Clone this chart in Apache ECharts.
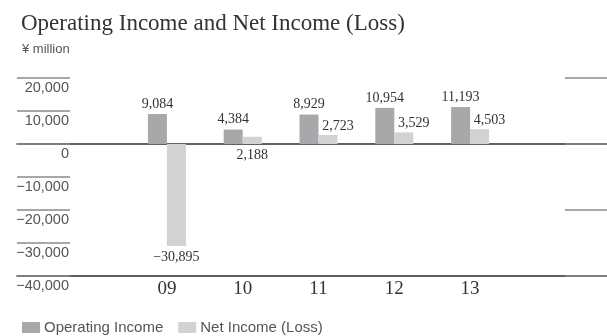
<!DOCTYPE html>
<html>
<head>
<meta charset="utf-8">
<script src="https://cdn.jsdelivr.net/npm/echarts@6/dist/echarts.min.js"></script>
<style>
  html, body { margin: 0; padding: 0; background: #fff; }
  #chart { width: 607px; height: 336px; }
</style>
</head>
<body>
<div id="chart"></div>
<script>
// Fiscal years and results (¥ million)
const years = ['09', '10', '11', '12', '13'];
const operatingIncome = [9084, 4384, 8929, 10954, 11193];
const netIncome = [-30895, 2188, 2723, 3529, 4503];
const yMin = -40000;
const yMax = 20000;
const yStep = 10000;

const serif = '"Liberation Serif", "DejaVu Serif", serif';
const sans = '"Liberation Sans", Arial, sans-serif';
const GRID_TOP = 78;
const GRID_BOTTOM = 60;

const fmt = v => (v < 0 ? '\u2212' : '') + Math.abs(v).toLocaleString('en-US');

const chart = echarts.init(document.getElementById('chart'), null, { renderer: 'canvas' });

chart.setOption({
  animation: false,
  backgroundColor: '#ffffff',
  title: [
    {
      text: 'Operating Income and Net Income (Loss)',
      left: 16, top: 7,
      textStyle: { fontFamily: serif, fontSize: 23, fontWeight: 'normal', color: '#333' }
    },
    {
      text: '\u00a5 million',
      left: 17, top: 38,
      textStyle: { fontFamily: sans, fontSize: 13, fontWeight: 'normal', color: '#555' }
    }
  ],
  legend: {
    left: 17, top: 315,
    itemWidth: 18, itemHeight: 11, itemGap: 15,
    icon: 'rect',
    textStyle: { fontFamily: sans, fontSize: 15, color: '#555', padding: [0, 0, 0, -1] },
    data: ['Operating Income', 'Net Income (Loss)']
  },
  grid: [
    // full-width frame for the zero and base lines
    { left: 17, right: 0, top: GRID_TOP, bottom: GRID_BOTTOM },
    // tick marks and value labels
    { left: 70, right: 0, top: GRID_TOP, bottom: GRID_BOTTOM },
    // bars
    { left: 129, right: 99, top: GRID_TOP, bottom: GRID_BOTTOM }
  ],
  xAxis: [
    {
      type: 'category', gridIndex: 0, data: years,
      axisLine: { show: true, onZero: true, lineStyle: { color: '#2b2b2b', width: 1.5 } },
      axisTick: { show: false }, axisLabel: { show: false }, splitLine: { show: false }
    },
    {
      type: 'category', gridIndex: 0, data: years, position: 'bottom',
      axisLine: { show: true, onZero: false, lineStyle: { color: '#2b2b2b', width: 1.5 } },
      axisTick: { show: false }, axisLabel: { show: false }, splitLine: { show: false }
    },
    {
      type: 'category', gridIndex: 1, data: years, show: false
    },
    {
      type: 'category', gridIndex: 2, data: years,
      axisLine: { show: false }, axisTick: { show: false },
      axisLabel: {
        show: true, margin: 4,
        fontFamily: serif, fontSize: 19, color: '#333'
      },
      splitLine: { show: false }
    }
  ],
  yAxis: [
    {
      type: 'value', gridIndex: 0, min: yMin, max: yMax, interval: yStep,
      axisLine: { show: false }, axisTick: { show: false },
      axisLabel: { show: false }, splitLine: { show: false }
    },
    {
      type: 'value', gridIndex: 1, min: yMin, max: yMax, interval: yStep,
      axisLine: { show: false },
      axisTick: { show: true, length: 53, lineStyle: { color: '#8a8a8a', width: 1.5 } },
      axisLabel: {
        show: true, margin: 1, verticalAlign: 'top', padding: [2, 0, 0, 0],
        fontFamily: sans, fontSize: 14.5, color: '#555',
        formatter: v => fmt(v)
      },
      splitLine: { show: false }
    },
    {
      type: 'value', gridIndex: 1, position: 'right', min: yMin, max: yMax, interval: yStep * 2,
      axisLine: { show: false },
      axisTick: { show: true, inside: true, length: 42, lineStyle: { color: '#8a8a8a', width: 1.5 } },
      axisLabel: { show: false }, splitLine: { show: false }
    },
    {
      type: 'value', gridIndex: 2, min: yMin, max: yMax, interval: yStep, show: false
    }
  ],
  series: [
    {
      name: 'Operating Income', type: 'bar',
      xAxisIndex: 3, yAxisIndex: 3,
      data: operatingIncome,
      barWidth: 19, barGap: '0%',
      itemStyle: { color: '#a7a8aa' },
      label: {
        show: true, position: 'top', distance: 3,
        fontFamily: serif, fontSize: 14, color: '#333',
        formatter: p => fmt(p.value)
      }
    },
    {
      name: 'Net Income (Loss)', type: 'bar',
      xAxisIndex: 3, yAxisIndex: 3,
      data: netIncome.map((v, i) => {
        // the loss and the 2,188 label sit under the bar; the others sit up and to the right
        if (v < 0 || i === 1) {
          return { value: v, label: { position: 'bottom', distance: 4 } };
        }
        return { value: v, label: { position: 'top', distance: 2, offset: [10, 0] } };
      }),
      barWidth: 19, barGap: '0%',
      itemStyle: { color: '#d1d2d4' },
      label: {
        show: true,
        fontFamily: serif, fontSize: 14, color: '#333',
        formatter: p => fmt(p.value)
      }
    }
  ]
});
</script>
</body>
</html>
